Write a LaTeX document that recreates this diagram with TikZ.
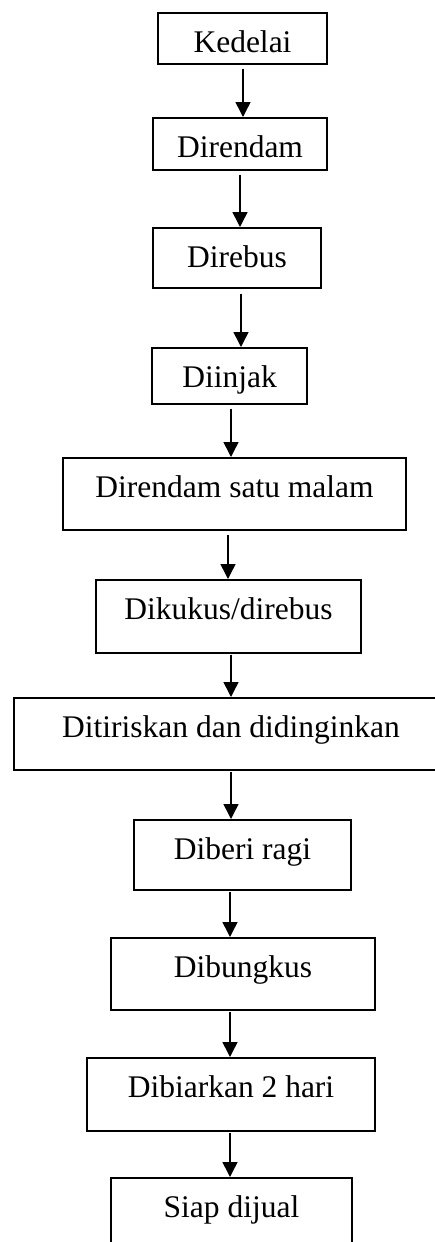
\documentclass[tikz,border=0pt]{standalone}
\usepackage{fontspec}
\setmainfont{Liberation Serif}
\usetikzlibrary{arrows.meta}
\begin{document}
\begin{tikzpicture}[x=1pt,y=-1pt,
  stepbox/.style={draw, line width=1.5pt, fill=white, anchor=north, inner sep=0pt,
    text height=40pt, font=\fontsize{31.5}{36}\selectfont},
  arr/.style={line width=1.5pt, -{Triangle[length=15pt,width=15pt]}}]
\useasboundingbox (0,0) rectangle (435,1242);
\node[stepbox, minimum width=169pt, text depth=11pt] (n1) at (242.5,12) {Kedelai};
\node[stepbox, minimum width=174pt, text depth=12pt] (n2) at (240,117) {Direndam};
\node[stepbox, minimum width=168pt, text depth=20pt] (n3) at (237,227) {Direbus};
\node[stepbox, minimum width=155pt, text depth=16pt] (n4) at (229.5,347) {Diinjak};
\node[stepbox, minimum width=343pt, text depth=32pt] (n5) at (234.5,457) {Direndam satu malam};
\node[stepbox, minimum width=265pt, text depth=33pt] (n6) at (228.5,579) {Dikukus/direbus};
\node[stepbox, minimum width=434pt, text depth=32pt] (n7) at (231,697) {Ditiriskan dan didinginkan};
\node[stepbox, minimum width=217pt, text depth=30pt] (n8) at (242.5,819) {Diberi ragi};
\node[stepbox, minimum width=264pt, text depth=32pt] (n9) at (243,937) {Dibungkus};
\node[stepbox, minimum width=288pt, text depth=33pt] (n10) at (231,1057) {Dibiarkan 2 hari};
\node[stepbox, minimum width=241pt, text depth=32pt] (n11) at (231.5,1177) {Siap dijual};
\draw[arr] ([xshift=0.5pt,yshift=-4pt]n1.south) -- ([xshift=3pt]n2.north);
\draw[arr] ([xshift=0pt,yshift=-4pt]n2.south) -- ([xshift=3pt]n3.north);
\draw[arr] ([xshift=4pt,yshift=-5pt]n3.south) -- ([xshift=11.5pt]n4.north);
\draw[arr] ([xshift=1.5pt,yshift=-4pt]n4.south) -- ([xshift=-3.5pt]n5.north);
\draw[arr] ([xshift=-6.5pt,yshift=-4pt]n5.south) -- ([xshift=-0.5pt]n6.north);
\draw[arr] ([xshift=2.5pt,yshift=-1pt]n6.south) -- ([xshift=0pt]n7.north);
\draw[arr] ([xshift=0pt,yshift=-1pt]n7.south) -- ([xshift=-11.5pt]n8.north);
\draw[arr] ([xshift=-12.5pt,yshift=-1pt]n8.south) -- ([xshift=-13pt]n9.north);
\draw[arr] ([xshift=-13pt,yshift=-1pt]n9.south) -- ([xshift=-1pt]n10.north);
\draw[arr] ([xshift=-1pt,yshift=-1pt]n10.south) -- ([xshift=-1.5pt]n11.north);
\end{tikzpicture}
\end{document}
